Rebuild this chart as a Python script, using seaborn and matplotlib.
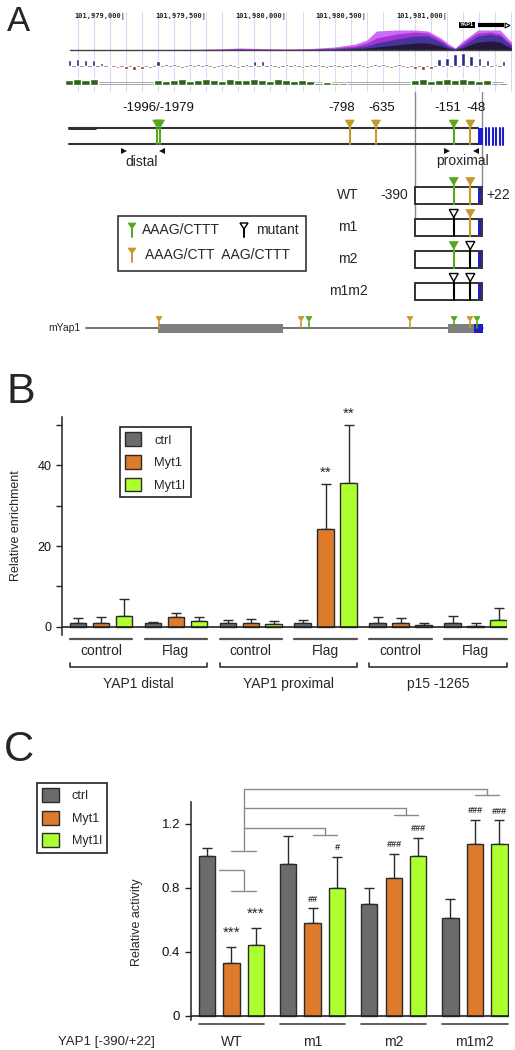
import numpy as np
import pandas as pd
import matplotlib
matplotlib.use("Agg")
import matplotlib.pyplot as plt
import seaborn as sns
from matplotlib.patches import Rectangle, Polygon, Patch
from matplotlib.transforms import blended_transform_factory

sns.set_theme(style="ticks")
plt.rcParams["font.family"] = ["Liberation Sans", "DejaVu Sans"]

# ---------------------------------------------------------------- data
# Panel A (genome browser + promoter map)
TSS = 101981192
ruler_ticks = [101979000, 101979500, 101980000, 101980500, 101981000]
density_pos = [101978650, 101978970, 101979280, 101979460, 101979590, 101979710,
               101979840, 101979990, 101980150, 101980300, 101980430, 101980500,
               101980560, 101980680, 101980800, 101980880, 101980960, 101981010,
               101981050, 101981090, 101981140, 101981190, 101981270, 101981330,
               101981370, 101981400]
density_l1 = [0.5, 0.5, 0.6, 0.8, 1.2, 2.0, 1.5, 1.0, 1.5, 3.0, 6.0, 10, 19, 20, 20, 19,
              12, 6, 2, 8, 14, 20, 20, 20, 13, 8]
density_l2 = [0.3, 0.3, 0.4, 0.5, 0.8, 1.5, 1.0, 0.7, 1.0, 2.0, 4.0, 7, 12, 16, 18, 17,
              10, 4, 1.5, 6, 12, 17, 18, 16, 10, 6]
density_l3 = [0.2, 0.2, 0.2, 0.3, 0.4, 0.6, 0.5, 0.4, 0.6, 1.2, 2.5, 4, 7, 11, 14, 14,
              8, 3, 1, 4, 9, 14, 16, 14, 8, 4]
density_l4 = [0.1, 0.1, 0.1, 0.1, 0.2, 0.3, 0.3, 0.2, 0.3, 0.6, 1.2, 2, 3, 5, 7, 7,
              4, 1.5, 0.5, 2, 5, 8, 9, 8, 4, 2]
cons_start = 101978650
cons_step = 50
phylo_vals = [6, 7, 6, 6, 3.5, -1, -2, -2.5, -3.5, -3, -2, 5, 2.5, 2, -1.5, 2.5, 2, 2.5,
              -2, 2.5, 2, -1.5, 2.5, 5, 5, 2.5, -2, 2.5, 2, -1.5, 2.5, 2, -1.5, 2.5, -2,
              2, 2.5, -1.5, 2, 2.5, -1.5, 2, -2, -2.5, -4, -2.5, 7, 8, 12, 13, 10, 8, 6,
              2.5, 5]
green_vals = [5, 6, 5, 6, 0, 0, 0, 0, 0, 0, 0, 5, 4, 5, 6, 4, 5, 6, 5, 4, 6, 5, 5, 6, 5,
              4, 6, 5, 4, 5, 4, 2, 3, 2, 2, 0, 0, 0, 0, 0, 0, 0, 0, 5, 6, 4, 5, 6, 5, 6,
              5, 4, 5, 0, 2]
site_bp = [-1996, -1979, -798, -635, -151, -48]
site_kind = ["AAAG", "AAAG", "AAG", "AAG", "AAAG", "AAG"]
site_labels = ["-1996/-1979", "-798", "-635", "-151", "-48"]
promoter_range = (-390, 22)
construct_names = ["WT", "m1", "m2", "m1m2"]
construct_mutated = [[False, False], [True, False], [False, True], [True, True]]
construct_sites = [-151, -48]
construct_kind = ["AAAG", "AAG"]
distal_primers = (-2200, -1965)
proximal_primers = (-195, -12)
mouse_sites_bp = [-1985, -1101, -1052, -423, -149, -50, -6]
mouse_kind = ["AAG", "AAG", "AAAG", "AAG", "AAAG", "AAG", "AAAG"]
mouse_blocks = [(-1991, -1213), (-187, -25)]

# Panel B (ChIP)
samples = ["ctrl", "Myt1", "Myt1l"]
b_cond = ["distal control", "distal Flag", "proximal control", "proximal Flag",
          "p15 control", "p15 Flag"]
b_sub = ["control", "Flag", "control", "Flag", "control", "Flag"]
b_groups = ["YAP1 distal", "YAP1 proximal", "p15 -1265"]
b_ctrl = [1.0, 1.0, 1.0, 1.0, 1.0, 1.0]
b_ctrl_err = [1.2, 0.3, 0.8, 0.6, 1.4, 1.6]
b_myt1 = [1.0, 2.5, 1.0, 24.3, 1.0, 0.3]
b_myt1_err = [1.4, 1.0, 0.9, 11.0, 1.2, 0.7]
b_myt1l = [2.8, 1.5, 0.6, 35.5, 0.4, 1.7]
b_myt1l_err = [4.2, 0.9, 0.9, 14.5, 0.6, 2.9]
b_marks_myt1 = ["", "", "", "**", "", ""]
b_marks_myt1l = ["", "", "", "**", "", ""]

# Panel C (luciferase)
c_cond = ["WT", "m1", "m2", "m1m2"]
c_ctrl = [1.0, 0.95, 0.70, 0.61]
c_ctrl_err = [0.05, 0.17, 0.095, 0.12]
c_myt1 = [0.33, 0.58, 0.86, 1.07]
c_myt1_err = [0.10, 0.09, 0.15, 0.155]
c_myt1l = [0.44, 0.80, 1.00, 1.07]
c_myt1l_err = [0.11, 0.19, 0.11, 0.15]
c_marks_myt1 = ["***", "##", "###", "###"]
c_marks_myt1l = ["***", "#", "###", "###"]

# ---------------------------------------------------------------- style
colors = ["#6b6b6b", "#dd7a2c", "#adff2f"]
GREEN = "#55a81c"
GOLD = "#c39a2a"
BLUE = "#1e1ec8"
DARK = "#2a2a2a"

W, H = 515, 1050
fig = plt.figure(figsize=(W / 100, H / 100), dpi=100)


def fy(py):
    return 1 - py / H


def fx(px):
    return px / W


# ---------------------------------------------------------------- panel A
PXB = 0.1607  # pixels per bp


def G(px):
    return TSS + (px - 478) / PXB


axA = fig.add_axes([0, fy(340), 1, 340 / H])
axA.set_xlim(G(0), G(W))
axA.set_ylim(340, 0)
axA.axis("off")

# browser grid
for g in range(101978700, 101981401, 100):
    axA.plot([g, g], [12, 91], color="#d9d9f7", lw=0.8, zorder=0)
for g in ruler_ticks:
    axA.text(g, 17, f"{g:,}|", ha="right", va="center", fontsize=5,
             family="DejaVu Sans Mono", color="#222", fontweight="bold")

# density hills
dx = np.array(density_pos)
for layer, col in zip([density_l1, density_l2, density_l3, density_l4],
                      ["#cc6cf6", "#a733d6", "#46349e", "#26173a"]):
    axA.fill_between(dx, 50, 50 - np.array(layer), color=col, lw=0, zorder=2)
axA.plot([density_pos[0], density_pos[-1]], [50.3, 50.3], color="#444", lw=1, zorder=3)

# conservation tracks
cg = cons_start + cons_step * np.arange(len(phylo_vals))
pv = np.array(phylo_vals, dtype=float)
axA.plot([cg[0], cg[-1]], [66, 66], color="#a08080", lw=0.6, zorder=2)
axA.bar(cg, -pv, bottom=66, width=22,
        color=["#2b2b8c" if v > 0 else "#8a3020" for v in pv], zorder=3)
gv = np.array(green_vals, dtype=float)
axA.plot([cg[0], cg[-1]], [81.8, 81.8], color="#9a9a9a", lw=0.6, zorder=2)
axA.plot([cg[0], cg[-1]], [84.2, 84.2], color="#9a9a9a", lw=0.6, zorder=2)
axA.bar(cg[gv > 0], -gv[gv > 0], bottom=85, width=51, color="#2e6418", zorder=3)

# gene label
axA.plot([TSS, G(504)], [25, 25], color="black", lw=3, solid_capstyle="butt")
axA.plot(G(507), 25, marker=">", ms=3.5, color="black", mfc="white", mew=0.8)
axA.text(G(467), 25, "YAP1", ha="center", va="center", fontsize=4, color="white",
         fontweight="bold", bbox=dict(boxstyle="square,pad=0.15", fc="black", ec="none"))


def motif(g, ytop, ybot, color, hollow=False, w=9, h=8, lw=1.5):
    hw = w / 2 / PXB
    if hollow:
        tri = Polygon([(g - hw, ytop), (g + hw, ytop), (g, ytop + h)], closed=True,
                      fc="white", ec="black", lw=1.0, zorder=6)
        stem_c = "black"
    else:
        tri = Polygon([(g - hw, ytop), (g + hw, ytop), (g, ytop + h)], closed=True,
                      fc=color, ec=color, lw=0.5, zorder=6)
        stem_c = color
    axA.add_patch(tri)
    axA.plot([g, g], [ytop + h, ybot], color=stem_c, lw=lw, zorder=5)


kind_color = {"AAAG": GREEN, "AAG": GOLD}

# reference lines for promoter fragment
axA.plot([TSS + promoter_range[0]] * 2, [92, 236], color="#8a8a8a", lw=1, zorder=1)
axA.plot([TSS + promoter_range[1]] * 2, [92, 187], color="#8a8a8a", lw=1, zorder=1)

# main promoter line
axA.plot([G(69), TSS], [128, 128], color="#333", lw=1.5)
axA.plot([G(69), TSS], [144, 144], color="#333", lw=1.5)
axA.plot([G(69), G(95)], [128, 128], color="#333", lw=2.2)
axA.add_patch(Rectangle((TSS, 127.5), 30, 17, fc=BLUE, ec="none", zorder=4))
for k in range(6):
    xs = TSS + 50 + 21.5 * k
    axA.plot([xs, xs], [127.5, 144.5], color=BLUE, lw=1.5)
for bp, kind in zip(site_bp, site_kind):
    motif(TSS + bp, 120, 144, kind_color[kind])
lab_pos = [np.mean(site_bp[:2])] + site_bp[2:]
lab_off = [0, -8, 6, -6, 6]
for lab, bp, off in zip(site_labels, lab_pos, lab_off):
    axA.text(TSS + bp + off / PXB, 108, lab, ha="center", va="center", fontsize=9.5,
             color="#111")

# primers
for (a, b), lab in zip([distal_primers, proximal_primers], ["distal", "proximal"]):
    axA.plot(TSS + a, 151, marker=">", ms=4.5, color="#111", mew=0)
    axA.plot(TSS + b, 151, marker="<", ms=4.5, color="#111", mew=0)
axA.text(G(142), 161.5, "distal", ha="center", va="center", fontsize=10)
axA.text(G(463), 161.5, "proximal", ha="center", va="center", fontsize=10)

# constructs
row_tops = [187, 219, 251, 283]
for name, muts, top in zip(construct_names, construct_mutated, row_tops):
    hgt = 16.5
    axA.add_patch(Rectangle((TSS + promoter_range[0], top),
                            promoter_range[1] - promoter_range[0], hgt,
                            fc="white", ec="#333", lw=1.4, zorder=3))
    axA.add_patch(Rectangle((TSS, top + 0.7), promoter_range[1] - 1.5, hgt - 1.4,
                            fc=BLUE, ec="none", zorder=4))
    for s, kind, m in zip(construct_sites, construct_kind, muts):
        motif(TSS + s, top - 9.5, top + hgt, kind_color[kind], hollow=m)
    axA.text(G(348), top + hgt / 2, name, ha="center", va="center", fontsize=10)
axA.text(G(394), row_tops[0] + 8.25, "-390", ha="center", va="center", fontsize=10)
axA.text(G(498), row_tops[0] + 8.25, "+22", ha="center", va="center", fontsize=10)

# legend box for motifs
axA.add_patch(Rectangle((G(118), 216), G(306) - G(118), 55, fc="white", ec="#333",
                        lw=1.2, zorder=2))
motif(G(132), 223, 236.5, GREEN, w=8, h=6, lw=1.4)
axA.text(G(142), 230, "AAAG/CTTT", ha="left", va="center", fontsize=10)
motif(G(244), 223, 236.5, None, hollow=True, w=8, h=6, lw=1.4)
axA.text(G(256), 230, "mutant", ha="left", va="center", fontsize=10)
motif(G(132), 248, 262, GOLD, w=8, h=6, lw=1.4)
axA.text(G(145), 255, "AAAG/CTT  AAG/CTTT", ha="left", va="center", fontsize=10)

# mouse promoter
axA.text(G(81), 328, "mYap1", ha="right", va="center", fontsize=7.5)
axA.plot([G(86), TSS + 31], [328, 328], color="#666", lw=1.3, zorder=2)
for a, b in mouse_blocks:
    axA.add_patch(Rectangle((TSS + a, 324), b - a, 8.5, fc="#7f7f7f", ec="none", zorder=3))
axA.add_patch(Rectangle((TSS - 25, 324), 56, 8.5, fc=BLUE, ec="none", zorder=3))
for bp, kind in zip(mouse_sites_bp, mouse_kind):
    motif(TSS + bp, 316.5, 328, kind_color[kind], w=6, h=5, lw=1.2)

fig.text(fx(7), fy(5), "A", fontsize=25, va="top", ha="left")

# ---------------------------------------------------------------- panels B & C helpers
WIDTH_B, GAP_B = 0.92, 0.28
WIDTH_C, GAP_C = 0.905, 0.33


def bar_panel(ax, cond, means, errs, width, gap):
    rows = []
    for s, m in zip(samples, means):
        for c, v in zip(cond, m):
            rows.append({"cond": c, "sample": s, "value": v})
    df = pd.DataFrame(rows)
    sns.barplot(data=df, x="cond", y="value", hue="sample", order=cond,
                hue_order=samples, palette=dict(zip(samples, colors)), width=width,
                gap=gap, errorbar=None, saturation=1, edgecolor=DARK, linewidth=1.0,
                legend=False, ax=ax, zorder=3)
    step = width / 3
    xs_all = []
    for k, (m, e) in enumerate(zip(means, errs)):
        xs = np.arange(len(cond)) + (k - 1) * step
        xs_all.append(xs)
        ax.errorbar(xs, m, yerr=[np.zeros(len(m)), e], fmt="none", ecolor=DARK,
                    elinewidth=1.0, capsize=3.5, capthick=1.0, zorder=2)
    ax.axhline(0, color="#222", lw=1.2, zorder=4)
    sns.despine(ax=ax, bottom=True)
    ax.spines["left"].set_color("#222")
    ax.spines["left"].set_linewidth(1.1)
    ax.set_xticks([])
    ax.set_xlabel("")
    ax.tick_params(axis="y", direction="out", length=4, width=1, color="#222",
                   pad=3.5, labelcolor="#111")
    ax.set_facecolor("none")
    return xs_all, step


def make_legend(ax, x0, y0, fs, hl):
    handles = [Patch(facecolor=c, edgecolor=DARK, lw=1.0, label=s)
               for s, c in zip(samples, colors)]
    leg = ax.legend(handles=handles, loc="upper left", bbox_to_anchor=(fx(x0), fy(y0)),
                    bbox_transform=fig.transFigure, frameon=True, fancybox=False,
                    edgecolor="#222", framealpha=1, fontsize=fs, handlelength=hl,
                    handleheight=hl, labelspacing=0.66, borderpad=0.42,
                    handletextpad=1.0, borderaxespad=0)
    leg.get_frame().set_linewidth(1.2)
    return leg


# ---------------------------------------------------------------- panel B
axB = fig.add_axes([fx(62), fy(635), (507 - 62) / W, (635 - 417) / H])
xsB, stepB = bar_panel(axB, b_cond, [b_ctrl, b_myt1, b_myt1l],
                       [b_ctrl_err, b_myt1_err, b_myt1l_err], WIDTH_B, GAP_B)
axB.set_xlim(-0.52, 5.42)
axB.set_ylim(-2, 51.9)
axB.set_yticks([0, 10, 20, 30, 40, 50])
axB.set_yticklabels(["0", "", "20", "", "40", ""], fontsize=9)
axB.set_ylabel("Relative enrichment", fontsize=9)
axB.yaxis.set_label_coords(-0.09, 0.5)
for xs, m, e, marks in [(xsB[1], b_myt1, b_myt1_err, b_marks_myt1),
                        (xsB[2], b_myt1l, b_myt1l_err, b_marks_myt1l)]:
    for x, v, er, mk in zip(xs, m, e, marks):
        if mk:
            axB.annotate(mk, (x, v + er), xytext=(0, 3), textcoords="offset points",
                         ha="center", va="bottom", fontsize=11)
make_legend(axB, 120, 427, 9.3, 1.24)

TB = blended_transform_factory(axB.transData, fig.transFigure)
bw_half = stepB * (1 - GAP_B) / 2
for i, sub in enumerate(b_sub):
    l, r = i - stepB - bw_half, i + stepB + bw_half
    axB.plot([l, r], [fy(638.5)] * 2, color="#555", lw=1.6, transform=TB, clip_on=False)
    axB.text(i, fy(651), sub, transform=TB, ha="center", va="center", fontsize=10)
for j, gname in enumerate(b_groups):
    l, r = 2 * j - stepB - bw_half, 2 * j + 1 + stepB + bw_half
    axB.plot([l, l, r, r], [fy(662.5), fy(667), fy(667), fy(662.5)], color="#333",
             lw=1.2, transform=TB, clip_on=False)
    axB.text((l + r) / 2, fy(684), gname, transform=TB, ha="center", va="center",
             fontsize=10)

fig.text(fx(6), fy(372), "B", fontsize=31, va="top", ha="left")

# ---------------------------------------------------------------- panel C
axC = fig.add_axes([fx(190.7), fy(1020), (509 - 190.7) / W, (1020 - 801.7) / H])
xsC, stepC = bar_panel(axC, c_cond, [c_ctrl, c_myt1, c_myt1l],
                       [c_ctrl_err, c_myt1_err, c_myt1l_err], WIDTH_C, GAP_C)
axC.set_xlim(-0.502, 3.42)
axC.set_ylim(-0.027, 1.3375)
axC.set_yticks([0, 0.4, 0.8, 1.2])
axC.set_yticklabels(["0", "0.4", "0.8", "1.2"], fontsize=9.5)
axC.set_ylabel("Relative activity", fontsize=9)
axC.yaxis.set_label_coords(-0.15, 0.45)
for xs, m, e, marks in [(xsC[1], c_myt1, c_myt1_err, c_marks_myt1),
                        (xsC[2], c_myt1l, c_myt1l_err, c_marks_myt1l)]:
    for x, v, er, mk in zip(xs, m, e, marks):
        if mk.startswith("*"):
            axC.annotate(mk, (x, v + er), xytext=(0, 5), textcoords="offset points",
                         ha="center", va="bottom", fontsize=11)
        else:
            axC.annotate(mk, (x, v + er), xytext=(0, 3.5), textcoords="offset points",
                         ha="center", va="bottom", fontsize=6.5, fontweight="bold",
                         fontstyle="italic", color="#333")
make_legend(axC, 37, 783, 9, 1.36)

# comparison brackets
gc = "#8a8a8a"
mid = stepC / 2
kw = dict(color=gc, lw=1.0, clip_on=False, zorder=5)
axC.plot([-stepC + stepC * (1 - GAP_C) / 2 + 0.05, mid, mid], [0.91, 0.91, 0.78], **kw)
axC.plot([0, stepC], [0.78, 0.78], **kw)
axC.plot([0, stepC], [1.03, 1.03], **kw)
axC.plot([mid, mid], [1.03, 1.417], **kw)
for g, ytop, ytick in [(1, 1.17, 1.13), (2, 1.30, 1.256), (3, 1.417, 1.38)]:
    axC.plot([mid, g + mid, g + mid], [ytop, ytop, ytick], **kw)
    axC.plot([g, g + stepC], [ytick, ytick], **kw)

TC = blended_transform_factory(axC.transData, fig.transFigure)
bw_half_c = stepC * (1 - GAP_C) / 2
for i, name in enumerate(c_cond):
    l, r = i - stepC - bw_half_c, i + stepC + bw_half_c
    axC.plot([l, r], [fy(1024.3)] * 2, color="#444", lw=1.2, transform=TC, clip_on=False)
    axC.text(i, fy(1042), name, transform=TC, ha="center", va="center", fontsize=10)
fig.text(fx(106), fy(1042), "YAP1 [-390/+22]", ha="center", va="center", fontsize=9.5)

fig.text(fx(4), fy(730), "C", fontsize=30, va="top", ha="left")

fig.savefig("out.png", dpi=100)
